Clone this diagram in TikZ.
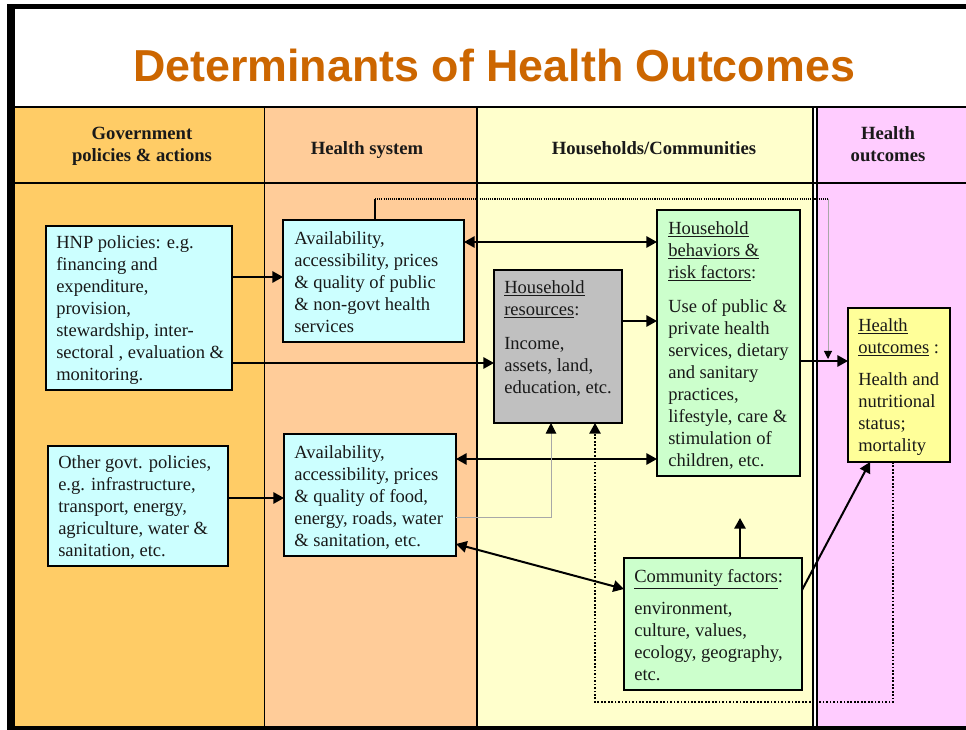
\documentclass[tikz,border=0pt]{standalone}
\usepackage{fontspec}
\setmainfont{Liberation Serif}
\newfontfamily\titlefont{Liberation Sans}
\usetikzlibrary{arrows.meta,fit}
\definecolor{govc}{HTML}{FFCC66}
\definecolor{hsc}{HTML}{FFCC99}
\definecolor{hhc}{HTML}{FFFFCC}
\definecolor{hoc}{HTML}{FFCCFF}
\definecolor{cyanb}{HTML}{CCFFFF}
\definecolor{grayb}{HTML}{C0C0C0}
\definecolor{greenb}{HTML}{CCFFCC}
\definecolor{yellowb}{HTML}{FFFF99}
\definecolor{titleor}{HTML}{CC6600}
\definecolor{thingray}{HTML}{A8A8A8}
\begin{document}
\begin{tikzpicture}[x=0.75pt,y=-0.75pt,
  box/.style={draw=black, line width=1.9pt, inner sep=0pt, outer sep=0pt},
  txt/.style={font=\fontsize{13.9}{16.5}\selectfont, align=left, inner sep=0pt, anchor=north west, text=black!90},
  hdr/.style={font=\bfseries\fontsize{14}{16.5}\selectfont, align=center, inner sep=0pt, text=black!90},
  tip/.style={-{Triangle[length=8pt,width=8.5pt]}},
  arr/.style={line width=1.5pt, -{Triangle[length=8pt,width=8.5pt]}},
  darr/.style={line width=1.5pt, {Triangle[length=8pt,width=8.5pt]}-{Triangle[length=8pt,width=8.5pt]}},
  gline/.style={draw=thingray, line width=0.7pt, -{Triangle[length=8pt,width=8pt,color=black]}},
  dotl/.style={line width=1.3pt, dash pattern=on 1.3pt off 1.3pt, -{Triangle[length=8pt,width=8.5pt]}}
]
\useasboundingbox (0,0) rectangle (966,730);
\fill[white] (0,0) rectangle (966,730);
% columns
\fill[govc] (15,107) rectangle (264,727);
\fill[hsc] (264,107) rectangle (477,727);
\fill[hhc] (477,107) rectangle (813,727);
\fill[white] (813,107) rectangle (817,727);
\fill[hoc] (817,107) rectangle (966,727);
\draw[line width=1.5pt] (15,107) -- (966,107);
\draw[line width=1.5pt] (15,183) -- (966,183);
\draw[line width=0.6pt] (264,107) -- (264,727);
\draw[line width=1.5pt] (477,107) -- (477,727);
\draw[line width=0.9pt] (813,107) -- (813,727);
\draw[line width=0.9pt] (817,107) -- (817,727);
% frame
\fill[black] (7,4) rectangle (966,9);
\fill[black] (7,4) rectangle (15,730);
\fill[black] (7,726) rectangle (966,730);
% title
\node[font=\titlefont\bfseries\fontsize{33.6}{40}\selectfont, text=titleor, anchor=base, inner sep=0pt] (title) at (494,82) {Determinants of Health Outcomes};
% headers
\node[hdr, anchor=north] (h1) at (142,123.6) {\strut Government\\policies \& actions};
\node[hdr, anchor=base] (h2) at (367,155) {Health system};
\node[hdr, anchor=base] (h3) at (654,155) {Households/Communities};
\node[hdr, anchor=north] (h4) at (888,123.6) {\strut Health\\outcomes};
% boxes
\node[box, fill=cyanb, fit={(46,226) (232,390)}] (hnp) {};
\node[box, fill=cyanb, fit={(48,446) (228,566)}] (oth) {};
\node[box, fill=cyanb, fit={(283,220) (464,342)}] (hs1) {};
\node[box, fill=cyanb, fit={(284,434) (456,556)}] (food) {};
\node[box, fill=grayb, fit={(494,270) (622,423)}] (res) {};
\node[box, fill=greenb, fit={(657,210) (800,476)}] (beh) {};
\node[box, fill=yellowb, fit={(848,308) (950,462)}] (out) {};
\node[box, fill=greenb, fit={(624,558) (802,690)}] (com) {};
% texts
\node[txt] (hnpt) at (56,232.6) {\strut HNP policies: e.g.\\financing and\\expenditure,\\provision,\\stewardship, inter-\\sectoral , evaluation \&\\monitoring.};
\node[txt] (otht) at (58,452.6) {\strut Other govt. policies,\\e.g. infrastructure,\\transport, energy,\\agriculture, water \&\\sanitation, etc.};
\node[txt] (hs1t) at (294,228.6) {\strut Availability,\\accessibility, prices\\\& quality of public\\\& non-govt health\\services};
\node[txt] (foodt) at (294,442.6) {\strut Availability,\\accessibility, prices\\\& quality of food,\\energy, roads, water\\\& sanitation, etc.};
\node[txt] (rest) at (504,277.6) {\strut\underline{Household}\\\underline{resources}:\\[9pt]Income,\\assets, land,\\education, etc.};
\node[txt] (beht) at (668,218.6) {\strut\underline{Household}\\\underline{behaviors \&}\\\underline{risk factors}:\\[9pt]Use of public \&\\private health\\services, dietary\\and sanitary\\practices,\\lifestyle, care \&\\stimulation of\\children, etc.};
\node[txt] (outt) at (858,315.6) {\strut\underline{Health}\\\underline{outcomes} :\\[8pt]Health and\\nutritional\\status;\\mortality};
\node[txt] (comt) at (634,566.6) {\strut\underline{Community factors}:\\[8pt]environment,\\culture, values,\\ecology, geography,\\etc.};
% connectors
\coordinate (comup) at (740,518);
\coordinate (topl) at (375,199);
\coordinate (topr) at (828,199);
\draw[arr] (hnp.east |- 0,277) -- (hs1.west |- 0,277);
\draw[arr] (hnp.east |- 0,363) -- (res.west |- 0,363);
\draw[arr] (oth.east |- 0,498) -- (food.west |- 0,498);
\draw[darr] (hs1.east |- 0,242) -- (beh.west |- 0,242);
\draw[arr] (res.east |- 0,321) -- (beh.west |- 0,321);
\draw[darr] (food.east |- 0,459) -- (beh.west |- 0,459);
\draw[darr] (food.east |- 0,544) -- (com.west |- 0,589);
\draw[arr] (com.north -| comup) -- (comup);
\draw[arr] (com.east |- 0,590) -- (out.south -| 870,0);
\draw[arr] (beh.east |- 0,361) -- (out.west |- 0,361);
\draw[gline] (food.east |- 0,517) -| (res.south -| 551,0);
\draw[dotl] (out.south -| 893,0) -- (893,702) -- (595,702) -- (res.south -| 595,0);
\draw[line width=1.3pt] (hs1.north -| topl) -- (topl);
\draw[line width=0.8pt, dash pattern=on 0.8pt off 0.8pt] (topl) -- (topr);
\draw[draw=thingray, line width=0.7pt, -{Triangle[length=6pt,width=6pt,color=black]}] (topr) -- (828,359);
\end{tikzpicture}
\end{document}
